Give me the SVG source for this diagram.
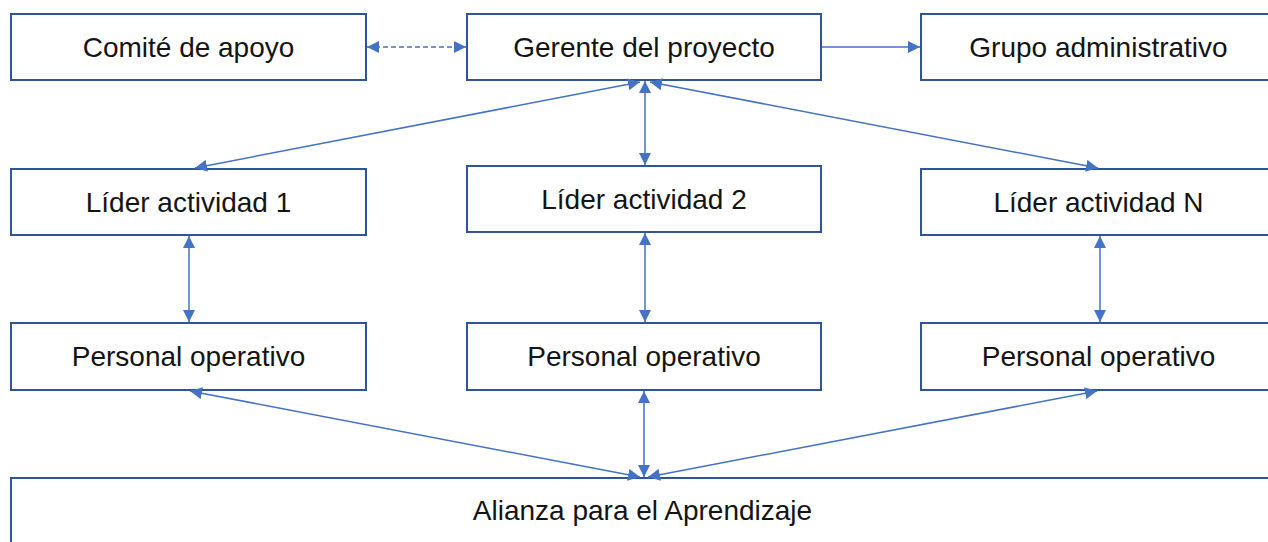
<svg xmlns="http://www.w3.org/2000/svg" width="1268" height="542" viewBox="0 0 1268 542">
<style>
.box{fill:#fff;stroke:#2F5597;stroke-width:2}
.lbl{font-family:"Liberation Sans",Arial,sans-serif;font-size:28px;fill:#141414;text-anchor:middle}
.con{stroke:#4472C4;stroke-width:1.5;fill:none}
.both{marker-start:url(#ah);marker-end:url(#ah)}
.end{marker-end:url(#ah)}
.dash{stroke-dasharray:5 3}
</style>
<defs>
<marker id="ah" viewBox="0 0 12 12" refX="12" refY="6" markerWidth="12" markerHeight="12" markerUnits="userSpaceOnUse" orient="auto-start-reverse">
<path d="M0,0 L12,6 L0,12 z" fill="#4472C4"/>
</marker>
</defs>
<rect width="1268" height="542" fill="#fff"/>
<g id="comite"><rect class="box" x="11" y="14" width="355" height="66"/><text class="lbl" x="188.5" y="57">Comité de apoyo</text></g>
<g id="gerente"><rect class="box" x="467" y="14" width="354" height="66"/><text class="lbl" x="644" y="57">Gerente del proyecto</text></g>
<g id="grupo"><rect class="box" x="921" y="14" width="355" height="66"/><text class="lbl" x="1098.5" y="57">Grupo administrativo</text></g>
<g id="lider1"><rect class="box" x="11" y="169" width="355" height="66"/><text class="lbl" x="188.5" y="212">Líder actividad 1</text></g>
<g id="lider2"><rect class="box" x="467" y="166" width="354" height="66"/><text class="lbl" x="644" y="209">Líder actividad 2</text></g>
<g id="liderN"><rect class="box" x="921" y="169" width="355" height="66"/><text class="lbl" x="1098.5" y="212">Líder actividad N</text></g>
<g id="personal1"><rect class="box" x="11" y="323" width="355" height="67"/><text class="lbl" x="188.5" y="366">Personal operativo</text></g>
<g id="personal2"><rect class="box" x="467" y="323" width="354" height="67"/><text class="lbl" x="644" y="366">Personal operativo</text></g>
<g id="personalN"><rect class="box" x="921" y="323" width="355" height="67"/><text class="lbl" x="1098.5" y="366">Personal operativo</text></g>
<g id="alianza"><rect class="box" x="11" y="478" width="1265" height="80"/><text class="lbl" x="642.5" y="520">Alianza para el Aprendizaje</text></g>
<g id="connectors">
<line class="con both dash" x1="367" y1="47" x2="466" y2="47"/>
<line class="con end" x1="822" y1="47" x2="920" y2="47"/>
<line class="con both" x1="645" y1="81" x2="645" y2="165"/>
<line class="con both" x1="640" y1="82" x2="195" y2="168"/>
<line class="con both" x1="650" y1="82" x2="1098" y2="168"/>
<line class="con both" x1="189" y1="236" x2="189" y2="322"/>
<line class="con both" x1="645" y1="233" x2="645" y2="322"/>
<line class="con both" x1="1100" y1="236" x2="1100" y2="322"/>
<line class="con both" x1="190" y1="391" x2="640" y2="477"/>
<line class="con both" x1="644" y1="391" x2="644" y2="477"/>
<line class="con both" x1="1097" y1="391" x2="648" y2="477"/>
</g>
</svg>
